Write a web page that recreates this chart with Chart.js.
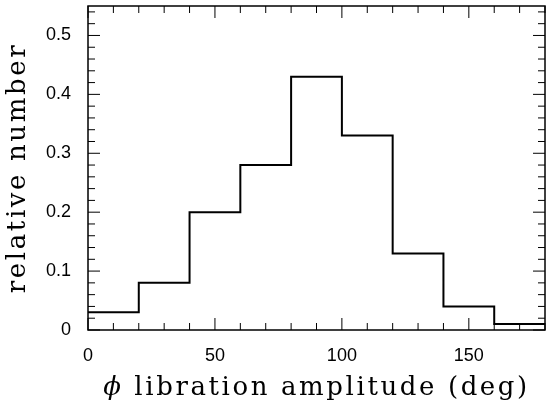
<!DOCTYPE html>
<html>
<head>
<meta charset="utf-8">
<script src="https://cdn.jsdelivr.net/npm/chart.js@4"></script>
<style>
  html, body { margin: 0; padding: 0; background: #fff; }
  #wrap { width: 546px; height: 406px; }
</style>
</head>
<body>
<div id="wrap"><canvas id="histChart"></canvas></div>
<script>
// histogram bins (deg) and relative numbers
const binEdges = [0, 20, 40, 60, 80, 100, 120, 140, 160, 180];
const counts = [0.03, 0.08, 0.20, 0.28, 0.43, 0.33, 0.13, 0.04, 0.01];

const xTicks = [0, 50, 100, 150];
const yTicks = [0, 0.1, 0.2, 0.3, 0.4, 0.5];
const xSymbol = 'ϕ';
const xTitle = ' libration amplitude (deg)';
const yTitle = 'relative number';

// step line: each bin starts at its left edge, last value carried to the end
const points = binEdges.map((x, i) => ({ x, y: counts[Math.min(i, counts.length - 1)] }));

const frameTicks = {
  id: 'frameTicks',
  afterDraw(chart) {
    const { ctx, chartArea: a } = chart;
    const xs = chart.scales.x, ys = chart.scales.y;
    ctx.save();
    ctx.strokeStyle = '#000';
    ctx.lineWidth = 1;

    // x ticks every 10, major every 50
    for (let v = 0; v <= 180; v += 10) {
      const px = xs.getPixelForValue(v);
      const len = v % 50 === 0 ? 12 : 7;
      ctx.beginPath();
      ctx.moveTo(px, a.bottom); ctx.lineTo(px, a.bottom - len);
      ctx.moveTo(px, a.top); ctx.lineTo(px, a.top + len);
      ctx.stroke();
    }
    // y ticks every 0.02, major every 0.1
    for (let k = 0; k <= 27; k++) {
      const v = k * 0.02;
      const py = ys.getPixelForValue(v);
      const len = k % 5 === 0 ? 12 : 7;
      ctx.beginPath();
      ctx.moveTo(a.left, py); ctx.lineTo(a.left + len, py);
      ctx.moveTo(a.right, py); ctx.lineTo(a.right - len, py);
      ctx.stroke();
    }

    ctx.lineWidth = 1.5;
    ctx.strokeRect(a.left, a.top, a.right - a.left, a.bottom - a.top);

    // axis titles
    ctx.fillStyle = '#000';
    ctx.letterSpacing = '2.6px';
    ctx.textBaseline = 'middle';
    ctx.textAlign = 'left';
    const symFont = 'italic 26px "DejaVu Serif"';
    const txtFont = '26px "DejaVu Serif"';
    ctx.font = symFont;
    const wSym = ctx.measureText(xSymbol).width;
    ctx.font = txtFont;
    const wTxt = ctx.measureText(xTitle).width;
    let x0 = (a.left + a.right) / 2 - (wSym + wTxt) / 2;
    ctx.font = symFont;
    ctx.fillText(xSymbol, x0, 388);
    ctx.font = txtFont;
    ctx.fillText(xTitle, x0 + wSym, 388);

    ctx.textAlign = 'center';
    ctx.translate(18, (a.top + a.bottom) / 2);
    ctx.rotate(-Math.PI / 2);
    ctx.fillText(yTitle, 0, 0);
    ctx.restore();
  }
};

const ctx = document.getElementById('histChart').getContext('2d');
new Chart(ctx, {
  type: 'line',
  data: {
    datasets: [{
      data: points,
      stepped: 'before',
      borderColor: '#000',
      borderWidth: 2,
      pointRadius: 0,
      fill: false
    }]
  },
  options: {
    responsive: true,
    maintainAspectRatio: false,
    animation: false,
    layout: { padding: { top: 6, right: 1, left: 0, bottom: 0 } },
    plugins: { legend: { display: false }, tooltip: { enabled: false } },
    scales: {
      x: {
        type: 'linear',
        min: 0,
        max: 180,
        grid: { display: false, drawTicks: false },
        border: { display: false },
        afterBuildTicks: s => { s.ticks = xTicks.map(v => ({ value: v })); },
        afterFit: s => { s.height = 76; s.paddingLeft = 0; s.paddingRight = 0; },
        ticks: {
          color: '#000',
          padding: 15,
          maxRotation: 0,
          font: { family: '"Liberation Sans", Arial, sans-serif', size: 18 },
          callback: v => String(v)
        }
      },
      y: {
        min: 0,
        max: 0.55,
        grid: { display: false, drawTicks: false },
        border: { display: false },
        afterBuildTicks: s => { s.ticks = yTicks.map(v => ({ value: v })); },
        afterFit: s => { s.width = 88; s.paddingTop = 0; s.paddingBottom = 0; },
        ticks: {
          color: '#000',
          padding: 17,
          font: { family: '"Liberation Sans", Arial, sans-serif', size: 18 },
          callback: v => (v === 0 ? '0' : v.toFixed(1))
        }
      }
    }
  },
  plugins: [frameTicks]
});
</script>
</body>
</html>
